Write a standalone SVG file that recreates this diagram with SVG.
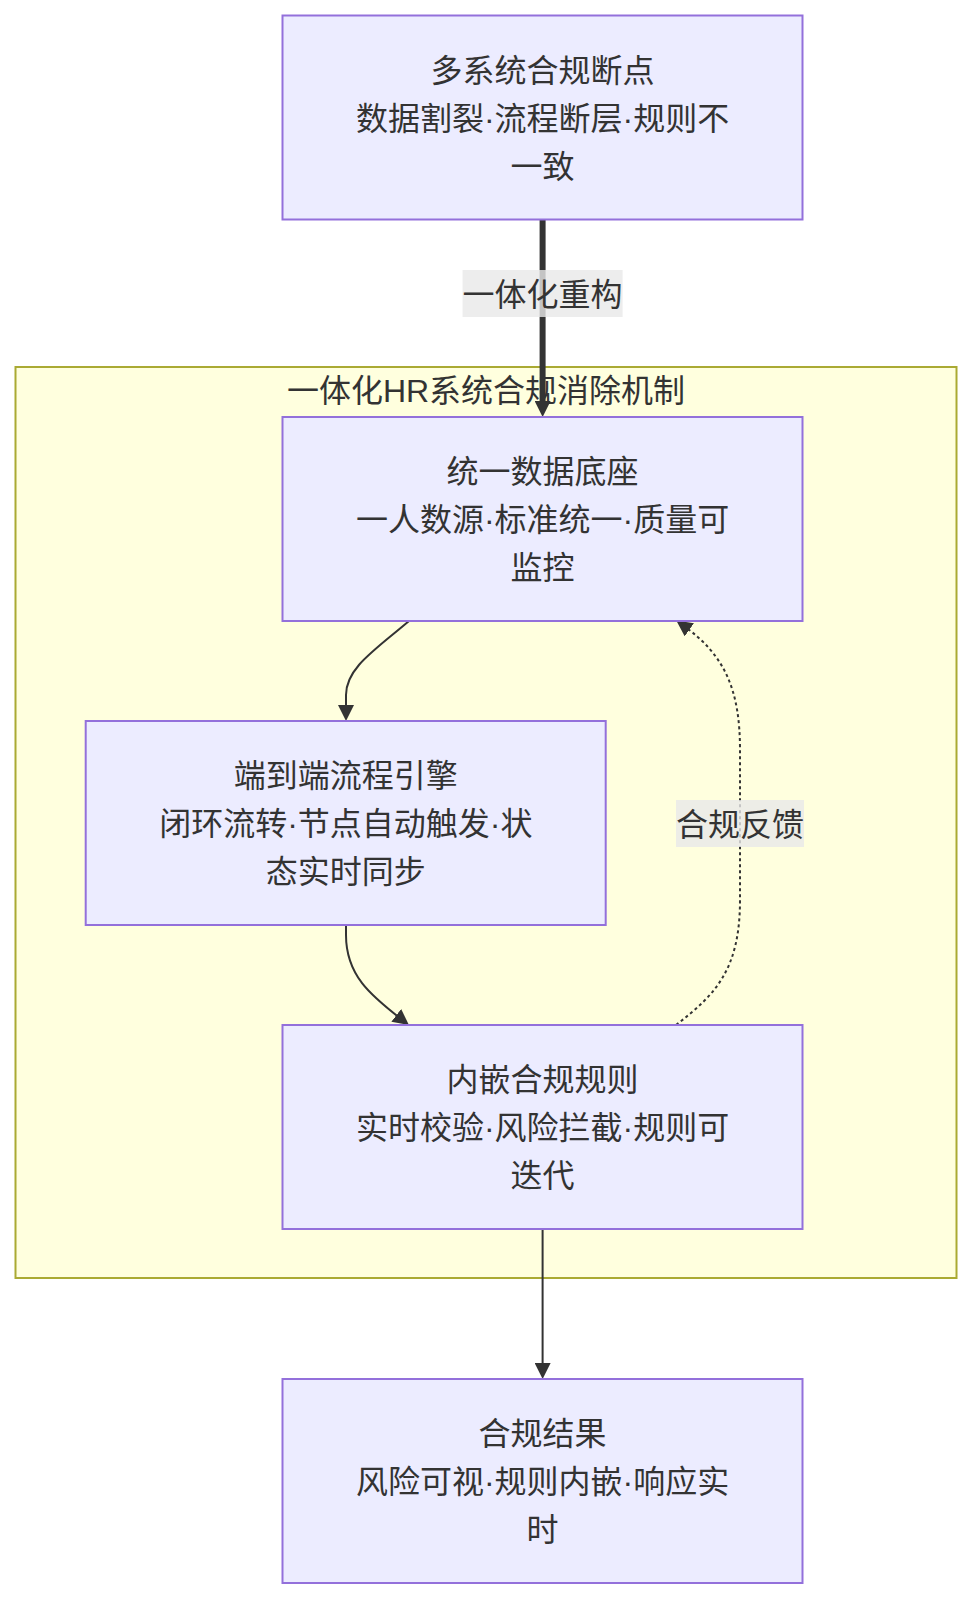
<svg xmlns="http://www.w3.org/2000/svg" width="973" height="1600" viewBox="0 0 973 1600">
<style>
.node rect{fill:#ECECFF;stroke:#9370DB;stroke-width:2;}
.t{font-family:"Liberation Sans","Noto Sans CJK SC",sans-serif;font-size:32px;fill:#333333;text-anchor:middle;}
.edge{fill:none;stroke:#333333;stroke-width:2;}
.thick{stroke-width:6;}
.dotted{stroke-dasharray:3 3;}
.lbl{fill:rgba(232,232,232,0.8);}
</style>
<defs>
<marker id="arrow" viewBox="0 0 10 10" refX="5" refY="5" markerWidth="16" markerHeight="16" markerUnits="userSpaceOnUse" orient="auto">
<path d="M0,0 L10,5 L0,10 z" fill="#333333"/>
</marker>
</defs>
<g id="cluster">
<rect x="15.5" y="367" width="941" height="911" fill="#ffffde" stroke="#aaaa33" stroke-width="2"/>
<text class="t" x="486" y="402">一体化HR系统合规消除机制</text>
</g>
<g id="edges">
<path class="edge thick" d="M542.6,219 L542.6,409" marker-end="url(#arrow)"/>
<path class="edge" d="M409,621 C375,650 346,668 346,695 L346,713" marker-end="url(#arrow)"/>
<path class="edge" d="M346,925 L346,935 C346,975 370,995 402.6,1020.2" marker-end="url(#arrow)"/>
<path class="edge dotted" d="M676,1025 C715,995 740,970 740,900 L740,750 C740,690 725,655 682.8,625.2" marker-end="url(#arrow)"/>
<path class="edge" d="M542.6,1229 L542.6,1371" marker-end="url(#arrow)"/>
</g>
<g id="edge-labels">
<g id="label-restructure">
<rect class="lbl" x="462.6" y="270" width="160" height="47"/>
<text class="t" x="542.6" y="305.5">一体化重构</text>
</g>
<g id="label-feedback">
<rect class="lbl" x="676" y="800" width="128" height="47"/>
<text class="t" x="740" y="835.5">合规反馈</text>
</g>
</g>
<g id="node-breakpoints" class="node">
<rect x="282.5" y="15.5" width="520" height="204"/>
<text class="t" x="542.6" y="81.5">多系统合规断点</text>
<text class="t" x="542.6" y="129.5">数据割裂·流程断层·规则不</text>
<text class="t" x="542.6" y="177.5">一致</text>
</g>
<g id="node-data" class="node">
<rect x="282.5" y="417" width="520" height="204"/>
<text class="t" x="542.6" y="483">统一数据底座</text>
<text class="t" x="542.6" y="531">一人数源·标准统一·质量可</text>
<text class="t" x="542.6" y="579">监控</text>
</g>
<g id="node-process" class="node">
<rect x="85.7" y="721" width="520" height="204"/>
<text class="t" x="345.8" y="787">端到端流程引擎</text>
<text class="t" x="345.8" y="835">闭环流转·节点自动触发·状</text>
<text class="t" x="345.8" y="883">态实时同步</text>
</g>
<g id="node-rules" class="node">
<rect x="282.5" y="1025" width="520" height="204"/>
<text class="t" x="542.6" y="1091">内嵌合规规则</text>
<text class="t" x="542.6" y="1139">实时校验·风险拦截·规则可</text>
<text class="t" x="542.6" y="1187">迭代</text>
</g>
<g id="node-result" class="node">
<rect x="282.5" y="1379" width="520" height="204"/>
<text class="t" x="542.6" y="1445">合规结果</text>
<text class="t" x="542.6" y="1493">风险可视·规则内嵌·响应实</text>
<text class="t" x="542.6" y="1541">时</text>
</g>
</svg>
